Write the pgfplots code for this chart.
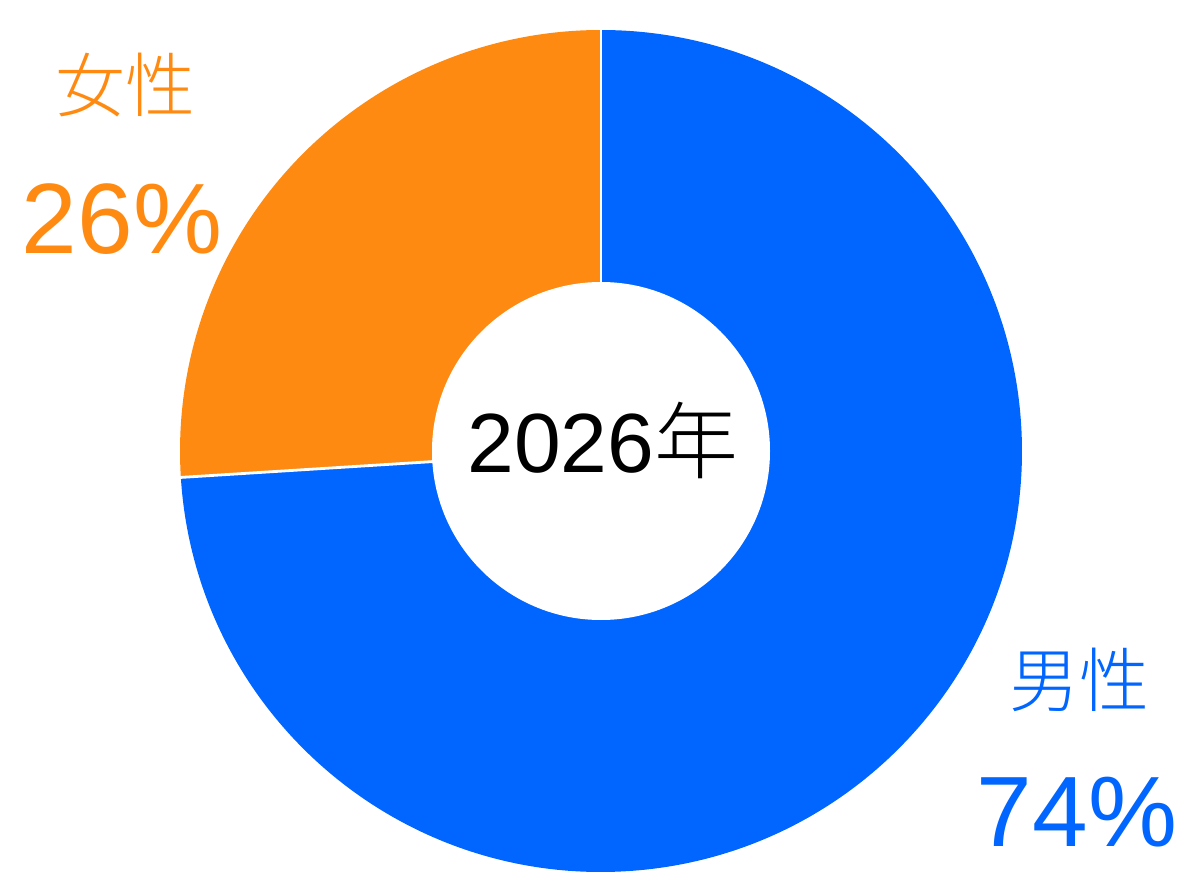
\documentclass[border=0pt]{standalone}
\usepackage{pgfplots}
\pgfplotsset{compat=1.18}
\usepackage{pgfplotstable}
\usepackage{fontspec}
\setmainfont{Liberation Sans}
\newfontfamily\cjk{Noto Sans CJK JP}[UprightFont={* Light}]

\definecolor{cfemale}{HTML}{FF8A12}
\definecolor{cmale}{HTML}{0066FF}

% share of each group in 2026, in percent
\pgfplotstableread{
group share
female 26
male 74
}\sharetable

\begin{document}
\begin{tikzpicture}
\pgfplotstablegetelem{0}{share}\of\sharetable
\pgfmathsetmacro{\fshare}{\pgfplotsretval}
\pgfplotstablegetelem{1}{share}\of\sharetable
\pgfmathsetmacro{\mshare}{\pgfplotsretval}
\pgfmathsetmacro{\fend}{90+3.6*\fshare}
\pgfmathsetmacro{\mend}{\fend+3.6*\mshare}

\begin{axis}[%
width=592.5pt,
height=442pt,
at={(0pt,0pt)},
scale only axis,
xmin=0,
xmax=1185,
ymin=0,
ymax=884,
hide axis,
clip=false
]
\path (axis cs:0,0) rectangle (axis cs:1185,884);

% donut slices
\fill[cfemale] (axis cs:601,433) -- ++(90:210.5pt)
  arc[start angle=90, end angle=\fend, radius=210.5pt] -- cycle;
\fill[cmale] (axis cs:601,433) -- ++(\fend:210.5pt)
  arc[start angle=\fend, end angle=\mend, radius=210.5pt] -- cycle;
\draw[white, line width=1.4pt] (axis cs:601,433) -- ++(90:212pt);
\draw[white, line width=1.4pt] (axis cs:601,433) -- ++(\fend:212pt);
\fill[white] (axis cs:601,433) circle[radius=84.5pt];

% labels
\node[text=cfemale, font=\cjk\fontsize{35}{40}\selectfont] at (axis cs:125,799) {女性};
\node[text=cfemale, font=\fontsize{50}{56}\selectfont] at (axis cs:122,665) {26\%};
\node[text=cmale, font=\cjk\fontsize{35}{40}\selectfont] at (axis cs:1079,204) {男性};
\node[text=cmale, font=\fontsize{50}{56}\selectfont] at (axis cs:1077,72) {74\%};
\node[text=black, font=\fontsize{42}{48}\selectfont, inner sep=0pt] at (axis cs:603,444) {2026{\cjk 年}};
\end{axis}
\end{tikzpicture}
\end{document}
